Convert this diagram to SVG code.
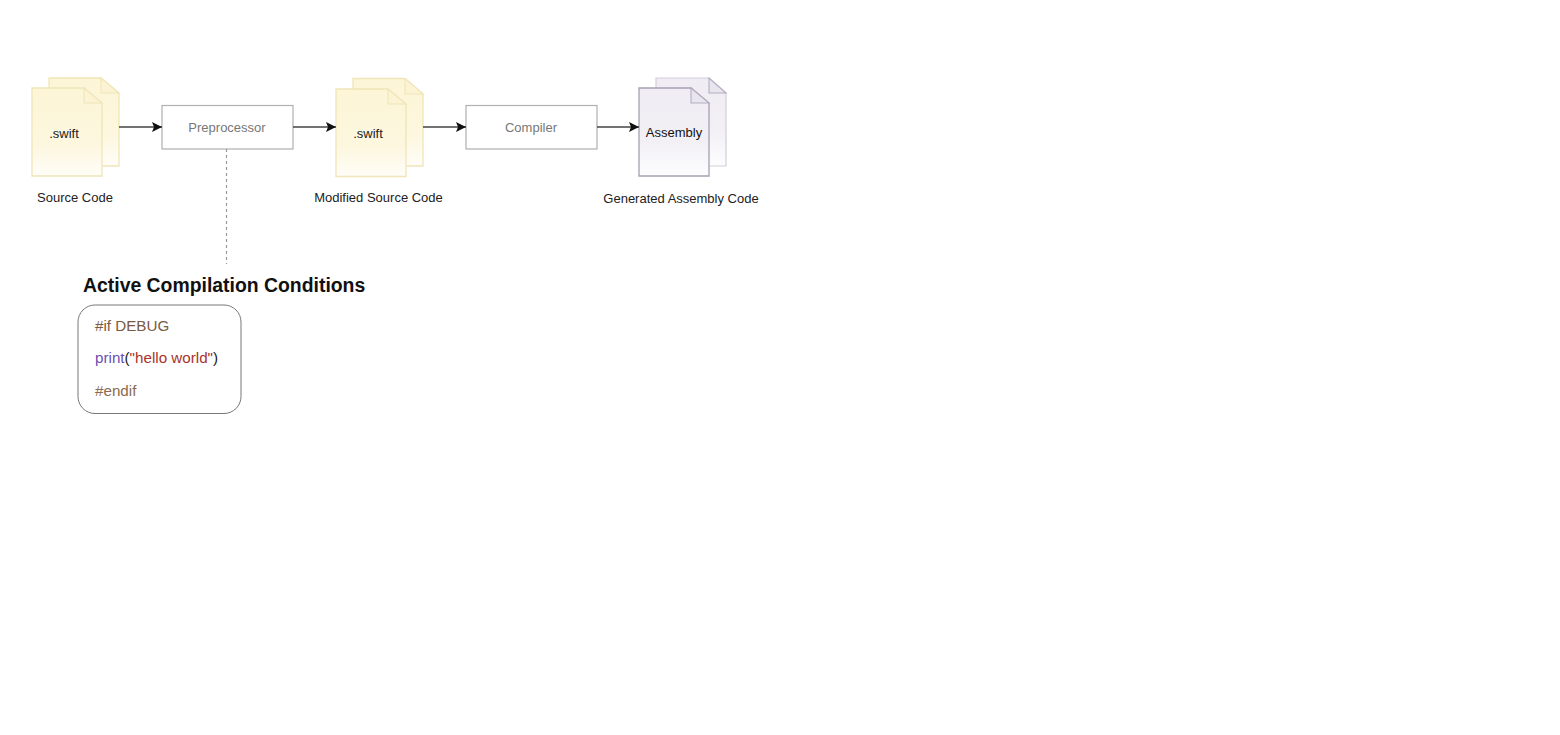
<svg xmlns="http://www.w3.org/2000/svg" width="1560" height="735" viewBox="0 0 1560 735">
<defs>
<linearGradient id="y" x1="0" y1="0" x2="0" y2="1"><stop offset="0" stop-color="#fcf5d6"/><stop offset="0.65" stop-color="#fdf7df"/><stop offset="1" stop-color="#fffdf8"/></linearGradient>
<linearGradient id="p" x1="0" y1="0" x2="0" y2="1"><stop offset="0" stop-color="#efecf3"/><stop offset="0.6" stop-color="#f2f0f5"/><stop offset="1" stop-color="#fdfdfe"/></linearGradient>
<marker id="a" markerUnits="userSpaceOnUse" markerWidth="11" markerHeight="11" refX="10" refY="5.500" orient="auto"><path d="M0 0.500L10 5.500L0 10.500L2 5.500Z" fill="#111"/></marker>
</defs>
<style>
text{font-family:"Liberation Sans",Arial,sans-serif;font-size:13px;fill:#222}
.y{fill:url(#y);stroke:#f0e5b8;stroke-width:1.3}
.yf{fill:#fbf3d3;stroke:#f0e5b8;stroke-width:1.1}
.v{fill:url(#p);stroke:#a79fb5;stroke-width:1.3}
.vb{fill:url(#p);stroke:#d3cedc;stroke-width:1.2}
.vf{fill:#e9e5ef;stroke:#b4adc0;stroke-width:1.1}
.b{fill:#fff;stroke:#b0b0b0;stroke-width:1.2}
.l{fill:#777}
.c{stroke:#444;stroke-width:1.4;fill:none;marker-end:url(#a)}
.code{font-size:15.200px}
</style>
<rect width="1560" height="735" fill="#fff"/>
<g id="source-code">
<path class="y" d="M49 78H101L119 93V166H49Z"/><path class="yf" d="M101 78V93H119Z"/>
<path class="y" d="M32 88H84L102 103V176H32Z"/><path class="yf" d="M84 88V103H102Z"/>
<text x="64" y="138" text-anchor="middle">.swift</text>
<text x="75" y="202" text-anchor="middle">Source Code</text>
</g>
<g id="preprocessor">
<rect class="b" x="162" y="105.500" width="131" height="43.500"/>
<text class="l" x="227" y="132" text-anchor="middle">Preprocessor</text>
</g>
<g id="modified-source-code">
<path class="y" d="M353 78.500H405L423 94V166H353Z"/><path class="yf" d="M405 78.500V94H423Z"/>
<path class="y" d="M336 89H388L406 104V176.500H336Z"/><path class="yf" d="M388 89V104H406Z"/>
<text x="368" y="138" text-anchor="middle">.swift</text>
<text x="378.500" y="202" text-anchor="middle">Modified Source Code</text>
</g>
<g id="compiler">
<rect class="b" x="466" y="105.500" width="131" height="43.500"/>
<text class="l" x="531" y="132" text-anchor="middle">Compiler</text>
</g>
<g id="assembly">
<path class="vb" d="M656 78H709L726 93V166H656Z"/><path class="vf" d="M709 78V93H726Z"/>
<path class="v" d="M639 88H691L709 103V176H639Z"/><path class="vf" d="M691 88V103H709Z"/>
<text x="674" y="137" text-anchor="middle" style="fill:#111">Assembly</text>
<text x="681" y="203" text-anchor="middle">Generated Assembly Code</text>
</g>
<g id="connectors">
<path class="c" d="M119 127H162"/>
<path class="c" d="M293 127H336"/>
<path class="c" d="M423 127H466"/>
<path class="c" d="M597 127H639"/>
<path d="M226.500 149V264" fill="none" stroke="#999" stroke-width="1.200" stroke-dasharray="3 3"/>
</g>
<g id="active-compilation-conditions">
<text x="83" y="292" style="font-size:19.400px;font-weight:700;fill:#111">Active Compilation Conditions</text>
<rect x="78" y="305" width="163" height="108.500" rx="17" fill="#fff" stroke="#777" stroke-width="1"/>
<text class="code" x="95" y="331" style="fill:#7a5a42">#if DEBUG</text>
<text class="code" x="95" y="363"><tspan fill="#6a4fb0">print</tspan><tspan fill="#222">(</tspan><tspan fill="#a8332b">"hello world"</tspan><tspan fill="#222">)</tspan></text>
<text class="code" x="95" y="396" style="fill:#8a6a50">#endif</text>
</g>
</svg>
